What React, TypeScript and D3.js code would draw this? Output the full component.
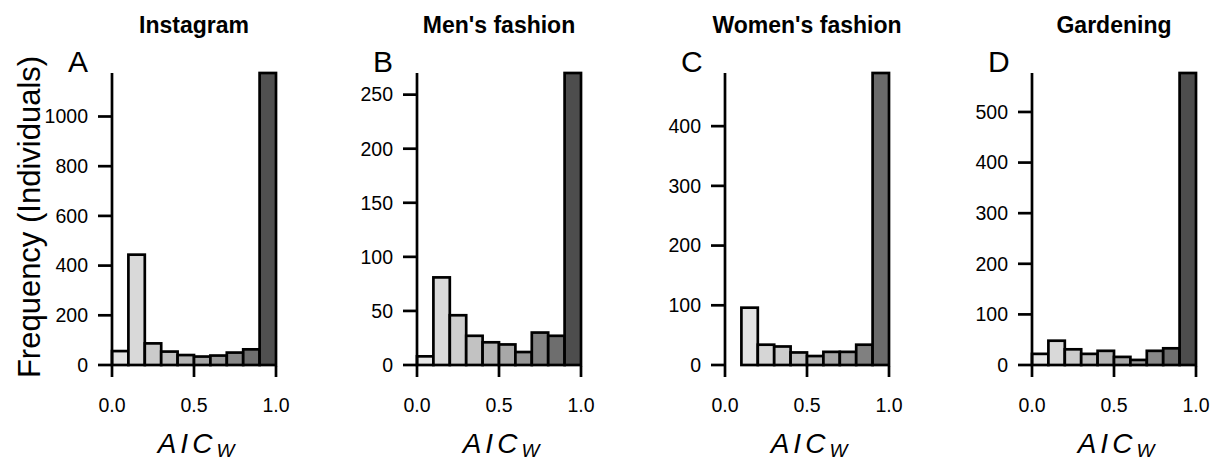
import React from 'react';
import * as d3 from 'd3';

// bin counts per panel, 10 bins of width 0.1 over AIC_w
const titles = ['Instagram', "Men's fashion", "Women's fashion", 'Gardening'];
const letters = ['A', 'B', 'C', 'D'];
const instagram = [56, 444, 87, 54, 40, 34, 38, 50, 63, 1175];
const mensFashion = [8, 81, 46, 27, 21, 19, 12, 30, 27, 270];
const womensFashion = [0, 96, 34, 31, 21, 15, 22, 22, 34, 489];
const gardening = [22, 48, 31, 22, 28, 16, 10, 28, 33, 577];
const yTicksA = [0, 200, 400, 600, 800, 1000];
const yTicksB = [0, 50, 100, 150, 200, 250];
const yTicksC = [0, 100, 200, 300, 400];
const yTicksD = [0, 100, 200, 300, 400, 500];
const xTicks = [0, 0.5, 1];

const series = [instagram, mensFashion, womensFashion, gardening];
const yTicks = [yTicksA, yTicksB, yTicksC, yTicksD];

// fills, light to dark, one ramp per panel
const fills = [
  ['#e3e3e3', '#d9d9d9', '#cbcbcb', '#c0c0c0', '#b3b3b3', '#a5a5a5', '#999999', '#888888', '#6f6f6f', '#505050'],
  ['#e6e6e6', '#dadada', '#cecece', '#c2c2c2', '#b3b3b3', '#a8a8a8', '#969696', '#828282', '#6e6e6e', '#4d4d4d'],
  ['#e8e8e8', '#e3e3e3', '#d6d6d6', '#cccccc', '#c0c0c0', '#b3b3b3', '#a6a6a6', '#999999', '#808080', '#6b6b6b'],
  ['#e6e6e6', '#d9d9d9', '#cccccc', '#c0c0c0', '#b3b3b3', '#a6a6a6', '#999999', '#888888', '#6e6e6e', '#4d4d4d'],
];

const W = 1217;
const H = 461;
const panelLeft = [112, 417, 725, 1032];
const plotW = 164;
const yBottom = 365;
const yTop = 73;
const font = '"Liberation Sans", Arial, sans-serif';
const sw = 2.7;

function Panel({ idx }: { idx: number }) {
  const values = series[idx];
  const x0 = panelLeft[idx];
  const x = d3.scaleLinear().domain([0, 1]).range([x0, x0 + plotW]);
  const y = d3.scaleLinear().domain([0, d3.max(values) as number]).range([yBottom, yTop]);
  const bins = d3.range(values.length).map(i => ({ x0: i / 10, x1: (i + 1) / 10, v: values[i] }));
  const cx = x(0.5);

  return (
    <g>
      <text x={cx} y={33} textAnchor="middle" fontSize={23} fontWeight="bold" fontFamily={font}>
        {titles[idx]}
      </text>
      <text x={x0 - 44} y={72} fontSize={30} fontFamily={font}>
        {letters[idx]}
      </text>

      {bins.filter(b => b.v > 0).map((b, i) => (
        <rect
          key={i}
          x={x(b.x0)}
          y={y(b.v)}
          width={x(b.x1) - x(b.x0)}
          height={y(0) - y(b.v)}
          fill={fills[idx][Math.round(b.x0 * 10)]}
          stroke="#000"
          strokeWidth={sw}
        />
      ))}

      {/* y axis */}
      <line x1={x0} x2={x0} y1={yTop} y2={yBottom + 1} stroke="#000" strokeWidth={sw} />
      {yTicks[idx].map(t => (
        <g key={t}>
          <line x1={x0 - 14} x2={x0} y1={y(t)} y2={y(t)} stroke="#000" strokeWidth={sw} />
          <text x={x0 - 24} y={y(t)} dy="0.35em" textAnchor="end" fontSize={19.5} fontFamily={font}>
            {t}
          </text>
        </g>
      ))}

      {/* x axis: ticks only */}
      {xTicks.map(t => (
        <g key={t}>
          <line x1={x(t)} x2={x(t)} y1={yBottom + 1} y2={yBottom + 12} stroke="#000" strokeWidth={sw} />
          <text x={x(t)} y={412} textAnchor="middle" fontSize={19.5} fontFamily={font}>
            {d3.format('.1f')(t)}
          </text>
        </g>
      ))}

      <text x={cx + 3} y={453} textAnchor="middle" fontFamily={font} fontStyle="italic">
        <tspan fontSize={28} letterSpacing={4}>AIC</tspan>
        <tspan fontSize={19} dy={4} letterSpacing={2}>W</tspan>
      </text>
    </g>
  );
}

export default function App() {
  return (
    <svg
      width={W}
      height={H}
      style={{ position: 'absolute', left: 0, top: 0, background: '#fff' }}
    >
      <rect width={W} height={H} fill="#fff" />
      <text
        transform={`translate(40,217) rotate(-90)`}
        textAnchor="middle"
        fontSize={31}
        fontFamily={font}
      >
        Frequency (Individuals)
      </text>
      {series.map((_, i) => (
        <Panel key={i} idx={i} />
      ))}
    </svg>
  );
}
